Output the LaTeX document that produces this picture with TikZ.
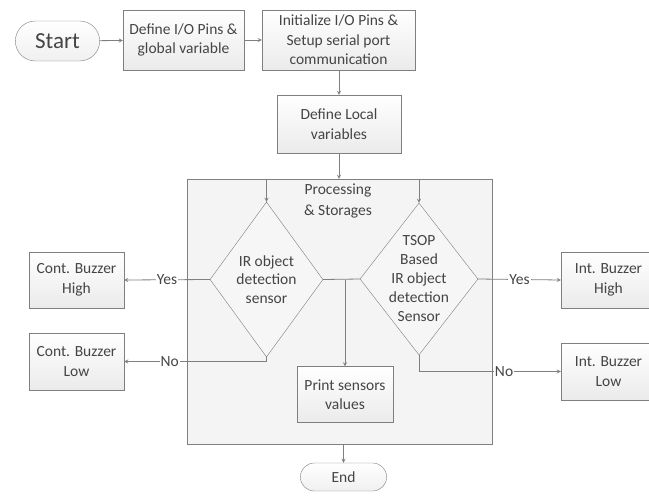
\documentclass[tikz,border=0pt]{standalone}
\usepackage{fontspec}
\setmainfont{Carlito}
\usetikzlibrary{shapes.geometric,shapes.misc}
\definecolor{linegray}{HTML}{7F7F7F}
\definecolor{txtgray}{HTML}{454545}
\tikzset{
  stepbox/.style={draw=linegray, top color=white, bottom color=gray!16, inner sep=2pt, align=center, text=txtgray, font=\fontsize{15.5}{19.5}\selectfont},
  term/.style={rounded rectangle, draw=linegray, top color=white, bottom color=gray!12, text=txtgray},
  dia/.style={diamond, draw=linegray, fill=gray!7, inner sep=0pt},
  arr/.style={draw=linegray, line width=0.8pt, -{stealth}},
  conn/.style={draw=linegray, line width=0.8pt},
  lbl/.style={fill=white, inner sep=1pt, text=txtgray, font=\fontsize{15.5}{18}\selectfont}
}
\begin{document}
\begin{tikzpicture}[x=1pt,y=-1pt]
\useasboundingbox (0,0) rectangle (649,496);

\node[draw=linegray, fill=gray!9, minimum width=305pt, minimum height=265pt] (proc) at (339.5,311.5) {};
\node[align=center, text=txtgray, font=\fontsize{15.5}{20.5}\selectfont] (proclbl) at (338,201) {Processing\\\& Storages};

\node[term, minimum width=91pt, minimum height=40pt, font=\fontsize{23}{26}\selectfont] (start) at (57.5,41) {Start};
\node[stepbox, minimum width=121pt, minimum height=60pt] (pins) at (183.5,40) {Define I/O Pins \&\\global variable};
\node[stepbox, minimum width=153pt, minimum height=60pt] (init) at (338.5,40) {Initialize I/O Pins \&\\Setup serial port\\communication};
\node[stepbox, minimum width=124pt, minimum height=58pt] (local) at (339,124) {Define Local\\variables};

\node[dia, minimum width=113pt, minimum height=155pt] (ir) at (266.5,279.5) {};
\node[align=center, text=txtgray, font=\fontsize{15.5}{18.5}\selectfont] (irtxt) at (ir) {IR object\\detection\\sensor};
\node[dia, minimum width=118pt, minimum height=152pt] (tsop) at (419,279) {};
\node[align=center, text=txtgray, font=\fontsize{15.5}{19}\selectfont] (tsoptxt) at (tsop) {TSOP\\Based\\IR object\\detection\\Sensor};

\node[stepbox, minimum width=95pt, minimum height=56pt] (chigh) at (76.5,280) {Cont. Buzzer\\High};
\node[stepbox, minimum width=95pt, minimum height=57pt] (clow) at (76.5,361.5) {Cont. Buzzer\\Low};
\node[stepbox, minimum width=95pt, minimum height=56pt] (ihigh) at (608.5,280) {Int. Buzzer\\High};
\node[stepbox, minimum width=95pt, minimum height=57pt] (ilow) at (608.5,371.5) {Int. Buzzer\\Low};
\node[stepbox, minimum width=96pt, minimum height=56pt] (print) at (345,394.5) {Print sensors\\values};
\node[term, minimum width=93pt, minimum height=28pt, font=\fontsize{15.5}{18}\selectfont] (stop) at (343.5,477) {End};

\draw[arr] (start) -- (pins);
\draw[arr] (pins) -- (init);
\draw[arr] (init.south -| local.north) -- (local.north);
\draw[arr] (local.south) -- (local.south |- proc.north);
\draw[arr] (proc.north -| ir.north) -- (ir.north);
\draw[arr] (proc.north -| tsop.north) -- (tsop.north);
\draw[conn] (ir.east) -- (tsop.west);
\draw[arr] (ir.east -| print.north) -- (print.north);
\draw[arr] (ir.west) -- node[lbl] {Yes} (chigh.east);
\draw[arr] (ir.south) |- node[lbl, pos=0.84] {No} (clow.east);
\draw[arr] (tsop.east) -- node[lbl] {Yes} (ihigh.west);
\draw[arr] (tsop.south) |- node[lbl, pos=0.8] {No} (ilow.west);
\draw[arr] (proc.south -| stop.north) -- (stop.north);
\end{tikzpicture}
\end{document}
